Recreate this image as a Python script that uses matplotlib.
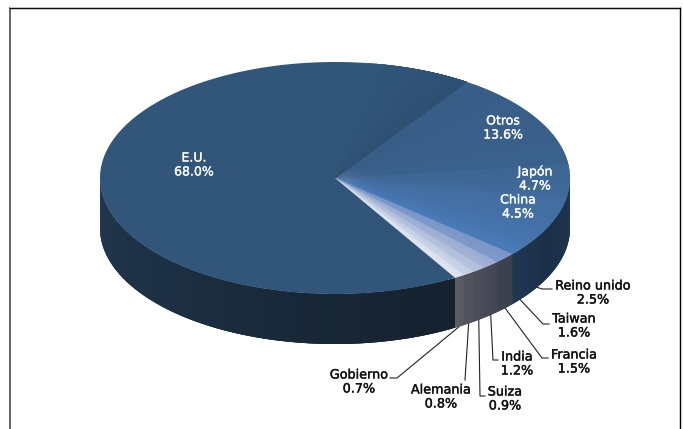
import numpy as np
import matplotlib
matplotlib.use('Agg')
from matplotlib import pyplot as plt
from matplotlib import patheffects
from matplotlib.colors import to_rgb

names = ['Otros', 'Japón', 'China', 'Reino unido', 'Taiwan', 'Francia',
         'India', 'Suiza', 'Alemania', 'Gobierno', 'E.U.']
shares = [13.6, 4.7, 4.5, 2.5, 1.6, 1.5, 1.2, 0.9, 0.8, 0.7, 68.0]

# colours, first and last edge of each slice going clockwise
top_cols = [('#385d86', '#3a618d'), ('#3d6693', '#41699b'), ('#426da0', '#4571a8'),
            ('#4572aa', '#4875b0'), ('#4878b4', '#4c7dba'), ('#7b97c8', '#8099cb'),
            ('#9caed3', '#a3b3d6'), ('#b3c0dc', '#b8c4df'), ('#c6d0e5', '#ccd5e9'),
            ('#dbe1ef', '#e6eaf4'), ('#315679', '#315679')]
side_cols = [('#1f3a58', '#1e3853'), ('#1e3652', '#1d344e'), ('#1d334c', '#1b2f47'),
             ('#1c3049', '#1e344d'), ('#1f3650', '#213850'), ('#3a404e', '#3e4452'),
             ('#434656', '#474957'), ('#4a4c58', '#4d4f5a'), ('#50525c', '#53555e'),
             ('#5a5b62', '#5f6066'), ('#15212e', '#2e4e70')]

cx, cy, rx, ry, depth = 335, 178, 235, 116, 50
start_angle = 55.9


def blend(a, b, t):
    return tuple((1 - t) * np.array(to_rgb(a)) + t * np.array(to_rgb(b)))


def rim(theta):
    t = np.radians(theta)
    return cx + rx * np.cos(t), cy - ry * np.sin(t)


fig = plt.figure(figsize=(6.83, 4.29), dpi=100)
ax = fig.add_axes([0, 0, 1, 1])
ax.set_xlim(0, 683)
ax.set_ylim(429, 0)
ax.axis('off')

# frame
ax.plot([10, 10], [8, 429], color='#555555', lw=1.3, zorder=1)
ax.plot([10, 680], [8, 8], color='black', lw=1.0, zorder=1)
ax.plot([10, 680], [7, 7], color='#c4c4c4', lw=0.8, zorder=1)
ax.plot([680, 680], [8, 429], color='black', lw=1.0, zorder=1)

edges = start_angle - np.cumsum([0] + shares) * 3.6
last = edges[-1]

# side wall, only the front half shows. every strip runs a bit into the next
# one so no seams show between them
for i in range(len(shares)):
    a0, a1 = edges[i], edges[i + 1]
    n = max(int(a0 - a1), 2)
    steps = np.linspace(a0, a1, n + 1)
    for j in range(n):
        s0, s1 = steps[j], steps[j + 1] - 2
        if s0 <= -180 or s1 >= 0:
            continue
        s0, s1 = min(s0, 0), max(s1, -180)
        arc = np.linspace(s0, s1, 6)
        x, y = rim(arc)
        px = np.r_[x, x[::-1]]
        py = np.r_[y, y[::-1] + depth]
        ax.fill(px, py, color=blend(*side_cols[i], j / n), lw=0, zorder=2)

# top face, same trick
for i in range(len(shares)):
    a0, a1 = edges[i], edges[i + 1]
    n = max(int((a0 - a1) / 2), 2)
    if top_cols[i][0] == top_cols[i][1]:
        n = 1
    steps = np.linspace(a0, a1, n + 1)
    for j in range(n):
        end = steps[j + 1] - 2 if i < len(shares) - 1 or j < n - 1 else last
        arc = np.linspace(steps[j], end, max(int(steps[j] - end), 4))
        x, y = rim(arc)
        ax.fill(np.r_[cx, x], np.r_[cy, y], color=blend(*top_cols[i], j / n), lw=0, zorder=3)

# darker shade at the end of the E.U. slice, fading out
fade = np.linspace(start_angle + 26, start_angle, 15)
for k in range(len(fade) - 1):
    arc = np.linspace(fade[k], start_angle, 30)
    x, y = rim(arc)
    c = blend('#315679', '#2e5072', k / (len(fade) - 2))
    ax.fill(np.r_[cx, x], np.r_[cy, y], color=c, lw=0, zorder=4)

# labels
inner_pos = {'E.U.': (194, 165), 'Otros': (503, 128), 'Japón': (535, 179), 'China': (518, 207)}
outer_pos = {'Reino unido': (593, 293), 'Taiwan': (574, 326), 'Francia': (574, 362),
             'India': (517, 364), 'Suiza': (505, 399), 'Alemania': (441, 397),
             'Gobierno': (359, 382)}
elbows = {'Reino unido': [(542, 289), (552, 289)], 'Taiwan': [(543, 324), (549, 324)],
          'Francia': [(542, 358), (548, 358)], 'India': [(493, 360), (498, 360)],
          'Suiza': [(480, 396), (485, 396)], 'Alemania': [(465, 380)],
          'Gobierno': [(397, 378), (390, 378)]}

for i, name in enumerate(names):
    label = '%s\n%.1f%%' % (name, shares[i])
    if name in inner_pos:
        t = ax.text(*inner_pos[name], label, color='white', fontsize=9, ha='center',
                    va='center', linespacing=1.1, zorder=6, family='DejaVu Sans')
        t.set_path_effects([patheffects.withStroke(linewidth=0.2, foreground='white')])
    else:
        t = ax.text(*outer_pos[name], label, color='#111111', fontsize=9.2, ha='center',
                    va='center', linespacing=1.1, zorder=6, family='DejaVu Sans')
        t.set_path_effects([patheffects.withStroke(linewidth=0.3, foreground='#111111')])
        x0, y0 = rim((edges[i] + edges[i + 1]) / 2)
        pts = [(x0, y0 + depth)] + elbows[name]
        ax.plot(*zip(*pts), color='#222222', lw=0.8, zorder=1.5)

plt.savefig('out.png', dpi=100)
